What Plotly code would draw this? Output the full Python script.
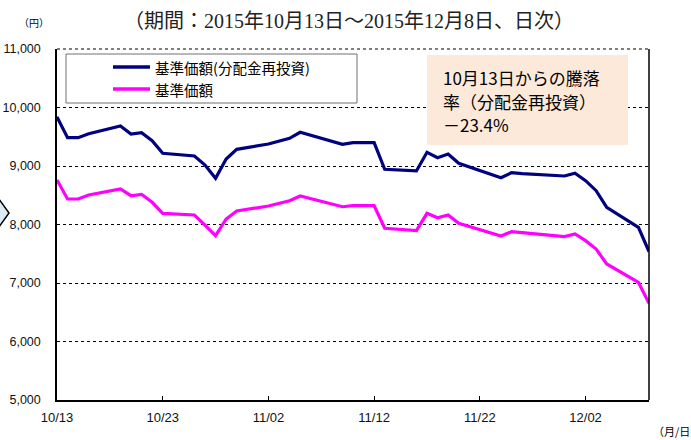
import plotly.graph_objects as go

dates = ["2015-10-13", "2015-10-14", "2015-10-15", "2015-10-16", "2015-10-19", "2015-10-20",
         "2015-10-21", "2015-10-22", "2015-10-23", "2015-10-26", "2015-10-27", "2015-10-28",
         "2015-10-29", "2015-10-30", "2015-11-02", "2015-11-04", "2015-11-05", "2015-11-06",
         "2015-11-09", "2015-11-10", "2015-11-11", "2015-11-12", "2015-11-13", "2015-11-16",
         "2015-11-17", "2015-11-18", "2015-11-19", "2015-11-20", "2015-11-24", "2015-11-25",
         "2015-11-26", "2015-11-27", "2015-11-30", "2015-12-01", "2015-12-02", "2015-12-03",
         "2015-12-04", "2015-12-07", "2015-12-08"]

nav_reinvested = [9840, 9484, 9484, 9552, 9684, 9547, 9569, 9432, 9217, 9171, 9017, 8790,
                  9120, 9285, 9376, 9473, 9576, 9525, 9371, 9399, 9399, 9399, 8943, 8915,
                  9234, 9142, 9205, 9046, 8800, 8886, 8870, 8860, 8829, 8875, 8749, 8578,
                  8294, 7952, 7538]

nav = [8761, 8436, 8436, 8504, 8607, 8492, 8516, 8380, 8191, 8162, 7991, 7809,
       8094, 8231, 8316, 8407, 8487, 8441, 8304, 8321, 8321, 8321, 7935, 7894,
       8191, 8116, 8162, 8020, 7803, 7877, 7860, 7845, 7792, 7838, 7724, 7581,
       7325, 7012, 6653]

x_tick_vals = ["2015-10-13", "2015-10-23", "2015-11-02", "2015-11-12", "2015-11-22", "2015-12-02"]
x_tick_text = ["10/13", "10/23", "11/02", "11/12", "11/22", "12/02"]
y_tick_vals = [5000, 6000, 7000, 8000, 9000, 10000, 11000]
y_tick_text = ["5,000", "6,000", "7,000", "8,000", "9,000", "10,000", "11,000"]

series_names = ["基準価額(分配金再投資)", "基準価額"]
series_colors = ["#000080", "#FF00FF"]

title_text = "（期間：2015年10月13日～2015年12月8日、日次）"
note_lines = ["10月13日からの騰落", "率（分配金再投資）", "－23.4%"]

W, H = 691, 440
L, R, T, B = 57, 42, 49, 40
PW, PH = W - L - R, H - T - B


def px(x):
    return (x - L) / PW


def py(y):
    return (H - B - y) / PH


fig = go.Figure()
for vals, name, col in zip([nav_reinvested, nav], series_names, series_colors):
    fig.add_trace(go.Scatter(x=dates, y=vals, mode="lines", name=name,
                             line=dict(color=col, width=3.2), showlegend=False))

gfont = "Noto Sans CJK JP, Liberation Sans, sans-serif"

fig.update_layout(
    width=W, height=H,
    margin=dict(l=L, r=R, t=T, b=B, pad=0, autoexpand=False),
    paper_bgcolor="white", plot_bgcolor="white",
    font=dict(family=gfont, size=12, color="black"),
    xaxis=dict(type="date", range=["2015-10-13", "2015-12-08"],
               tickvals=x_tick_vals, ticktext=x_tick_text,
               showgrid=False, showline=True, linecolor="black", linewidth=1.5,
               ticks="inside", ticklen=4, tickcolor="black", ticklabelstandoff=5,
               tickfont=dict(family="Liberation Sans, sans-serif", size=13, color="#111111")),
    yaxis=dict(range=[5000, 11000], tickvals=y_tick_vals, ticktext=y_tick_text,
               showgrid=True, gridcolor="black", griddash="dot", gridwidth=1,
               showline=True, linecolor="black", linewidth=1.5, ticks="",
               zeroline=False, ticklabelstandoff=12,
               tickfont=dict(family="Liberation Sans, sans-serif", size=12.5, color="#111111")),
)

shapes = []
# right border
shapes.append(dict(type="line", xref="paper", yref="paper", x0=1, x1=1, y0=0, y1=1,
                   line=dict(color="black", width=1.5)))
# top dotted line
shapes.append(dict(type="line", xref="paper", yref="paper", x0=0, x1=1, y0=1, y1=1,
                   line=dict(color="black", width=1, dash="dot")))
# legend box
shapes.append(dict(type="rect", xref="paper", yref="paper", x0=px(66), x1=px(357),
                   y0=py(103), y1=py(54), fillcolor="white",
                   line=dict(color="#707070", width=1), layer="above"))
for i, (name, col) in enumerate(zip(series_names, series_colors)):
    yy = 67 + 22 * i
    shapes.append(dict(type="line", xref="paper", yref="paper", x0=px(113), x1=px(150),
                       y0=py(yy), y1=py(yy), line=dict(color=col, width=3.5), layer="above"))
# note box
shapes.append(dict(type="rect", xref="paper", yref="paper", x0=px(427), x1=px(628),
                   y0=py(145), y1=py(55), fillcolor="#FDE9DA",
                   line=dict(color="#FDE9DA", width=0), layer="above"))
# chevron fragment at left
shapes.append(dict(type="path", xref="paper", yref="paper",
                   path=f"M {px(-4)},{py(195)} L {px(9)},{py(213)} L {px(-4)},{py(231)} Z",
                   fillcolor="#DDEBF7", line=dict(color="black", width=1.5)))
fig.update_layout(shapes=shapes)

ann = []
for i, name in enumerate(series_names):
    yy = 67 + 22 * i
    ann.append(dict(xref="paper", yref="paper", x=px(153), y=py(yy), text=name,
                    showarrow=False, xanchor="left", yanchor="middle",
                    font=dict(family=gfont, size=14.5, color="black")))
for i, line in enumerate(note_lines):
    ann.append(dict(xref="paper", yref="paper", x=px(441), y=py(77 + 24 * i), text=line,
                    showarrow=False, xanchor="left", yanchor="middle",
                    font=dict(family=gfont, size=17, color="black")))
ann.append(dict(xref="paper", yref="paper", x=px(349), y=py(21), text=title_text,
                showarrow=False, xanchor="center", yanchor="middle",
                font=dict(family="Liberation Serif, Noto Sans CJK JP, serif", size=20, color="#222222")))
ann.append(dict(xref="paper", yref="paper", x=px(17), y=py(22), text="（円）",
                showarrow=False, xanchor="left", yanchor="middle",
                font=dict(family=gfont, size=10, color="black")))
ann.append(dict(xref="paper", yref="paper", x=px(651), y=py(431), text="（月/日）",
                showarrow=False, xanchor="left", yanchor="middle",
                font=dict(family=gfont, size=11, color="black")))
fig.update_layout(annotations=ann)

fig.write_html("out.html", config={"displayModeBar": False},
               post_script="document.body.style.margin='0';document.body.style.padding='0';")
